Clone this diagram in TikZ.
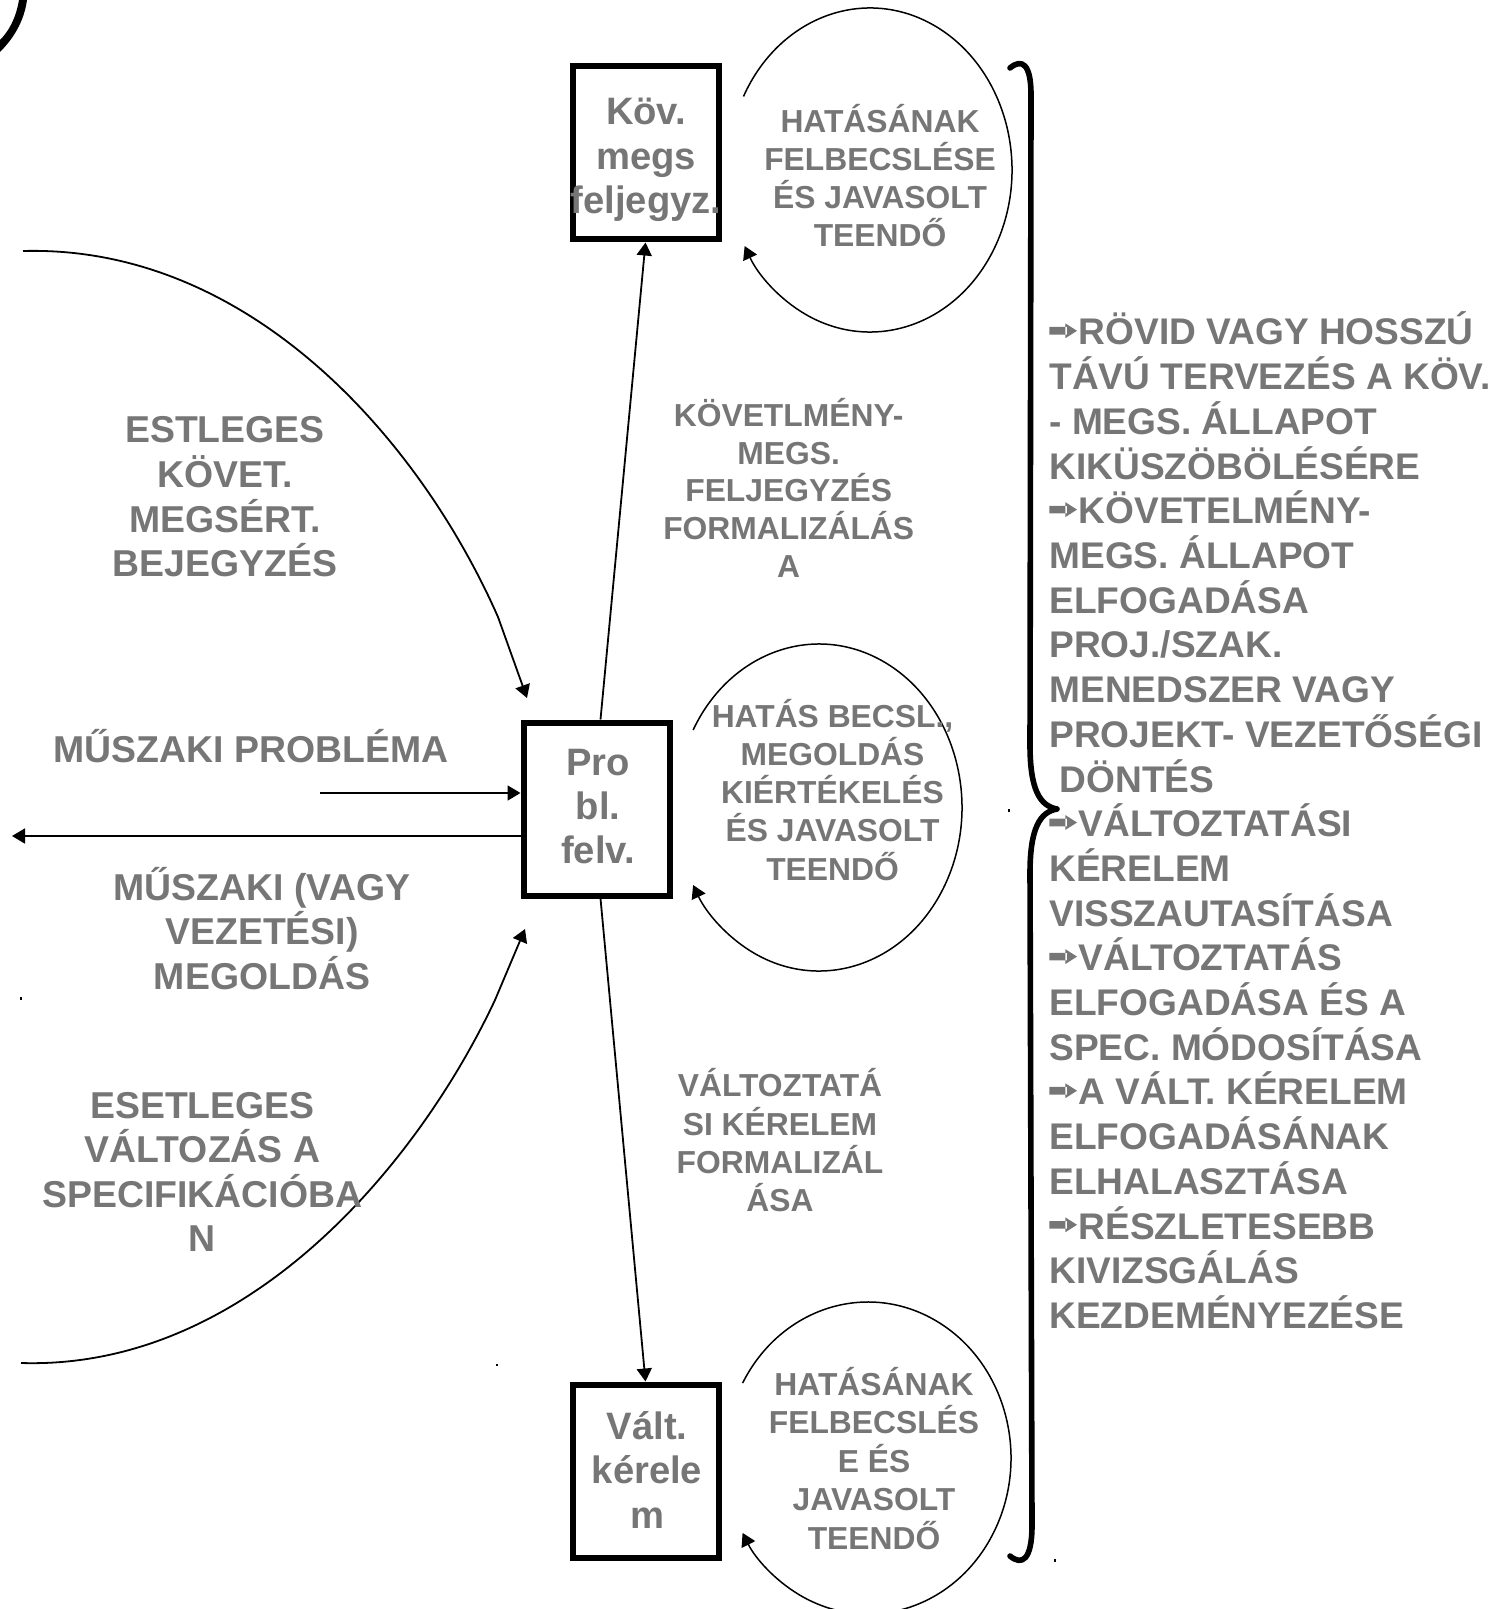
\documentclass[tikz,border=0pt]{standalone}
\usepackage{fontspec}
\setmainfont{Liberation Sans}
\usetikzlibrary{arrows.meta}
\definecolor{txt}{RGB}{118,118,118}
\tikzset{
  big/.style={font=\bfseries\fontsize{18.7}{22}\selectfont, text=txt, inner sep=0pt, anchor=base},
  boxtxt/.style={font=\bfseries\fontsize{19.1}{22}\selectfont, text=txt, inner sep=0pt, anchor=base},
  small/.style={font=\bfseries\fontsize{15.9}{19}\selectfont, text=txt, inner sep=0pt, anchor=base},
  lab/.style={font=\bfseries\fontsize{15.9}{19}\selectfont, text=txt, inner sep=0pt, anchor=base},
  rtext/.style={font=\bfseries\fontsize{18.55}{22}\selectfont, text=txt, inner sep=0pt, anchor=base west},
  boxnode/.style={draw, line width=3pt, minimum width=73pt, minimum height=86.5pt, inner sep=0pt},
  conn/.style={line width=0.9pt, -{Triangle[length=6.5pt,width=7.5pt]}},
  loopline/.style={line width=0.75pt, -{Triangle[length=6.5pt,width=7.5pt]}},
}
\newcommand\barr{\tikz[baseline=0pt]\fill[txt] (0pt,5.2pt) rectangle (8.8pt,9pt) (8pt,3.4pt) -- (13.8pt,7.1pt) -- (8pt,10.8pt) -- cycle;\hspace{0.8pt}}
% #1 style, #2 name prefix, #3 x, #4 first baseline (px, downwards), #5 pitch, #6 lines
\newcommand\mlines[6][big]{\foreach \lineT [count=\i] in {#6} {\node[#1] (#2\i) at (#3,{-(#4)-(#5)*(\i-1)}) {\lineT};}}
\begin{document}
\begin{tikzpicture}[x=0.5pt,y=0.5pt]
\useasboundingbox (0,0) rectangle (1497,-1609);

% boxes
\node[boxnode] (top) at (645.5,-153) {};
\node[boxnode] (mid) at (596.5,-809) {};
\node[boxnode] (bot) at (645.5,-1471) {};

% box texts
\mlines[boxtxt]{tb}{646}{125}{44.5}{Köv.,megs,feljegyz.}
\mlines[boxtxt]{mb}{598}{775}{44}{Pro,bl.,felv.}
\mlines[boxtxt]{bb}{647}{1439}{44.5}{Vált.,kérele,m}

% connectors between boxes
\draw[conn] ([xshift=2pt]mid.north) -- (top.south);
\draw[conn] ([xshift=2pt]mid.south) -- (bot.north);

% horizontal in/out
\coordinate (pin) at (320,-793);
\coordinate (pout) at (12,-836);
\draw[conn] (pin) -- (pin -| mid.west);
\draw[conn] (pout -| mid.west) -- (pout);

% big curved arrows on the left
\coordinate (c1s) at (23,-251);
\coordinate (c1k) at (498,-617);
\coordinate (c1e) at (527,-698);
\draw[conn] (c1s) .. controls (250,-245) and (420,-440) .. (c1k) -- (c1e);
\coordinate (c2s) at (21,-1363);
\coordinate (c2k) at (495,-1000);
\coordinate (c2e) at (525,-929);
\draw[conn] (c2s) .. controls (250,-1370) and (420,-1160) .. (c2k) -- (c2e);

% loops
\coordinate (eT) at (870,-170);
\coordinate (eM) at (819,-807.5);
\coordinate (eB) at (868,-1458);
\draw[loopline] (eT) ++(153:71pt and 81pt) arc[start angle=153, end angle=-152, x radius=71pt, y radius=81pt];
\draw[loopline] (eM) ++(151.7:71.5pt and 81.75pt) arc[start angle=151.7, end angle=-151.7, x radius=71.5pt, y radius=81.75pt];
\draw[loopline] (eB) ++(151.3:71.5pt and 78pt) arc[start angle=151.3, end angle=-151.3, x radius=71.5pt, y radius=78pt];

% loop texts
\mlines[small]{tc}{880}{133}{38}{HATÁSÁNAK,FELBECSLÉSE,ÉS JAVASOLT,TEENDŐ}
\mlines[small]{mc}{832.5}{727.3}{38.2}{{HATÁS BECSL.,},MEGOLDÁS,KIÉRTÉKELÉS,ÉS JAVASOLT,TEENDŐ}
\mlines[small]{bc}{874}{1395}{38.5}{HATÁSÁNAK,FELBECSLÉS,E ÉS,JAVASOLT,TEENDŐ}

% connector labels
\mlines[lab]{l1}{788.7}{426.7}{37.6}{KÖVETLMÉNY-,MEGS.,FELJEGYZÉS,FORMALIZÁLÁS,A}
\mlines[lab]{l2}{780}{1096.7}{38.3}{VÁLTOZTATÁ,SI KÉRELEM,FORMALIZÁL,ÁSA}

% left texts
\mlines{lt}{225}{443}{44.6}{ESTLEGES,KÖVET.,MEGSÉRT.,BEJEGYZÉS}
\node[big] (mp) at (251,-762) {MŰSZAKI PROBLÉMA};
\mlines{ms}{262}{900}{44.5}{MŰSZAKI (VAGY,VEZETÉSI),MEGOLDÁS}
\mlines{es}{202.5}{1118}{44.6}{ESETLEGES,VÁLTOZÁS A,SPECIFIKÁCIÓBA,N}

% right brace
\draw[line width=2.8pt, line cap=round, line join=round]
  (1010,-68) .. controls (1022,-58) and (1031,-64) .. (1031,-95)
  -- (1030,-745)
  .. controls (1030,-790) and (1040,-806) .. (1057,-809)
  .. controls (1040,-812) and (1030,-828) .. (1030,-873)
  -- (1032,-1525)
  .. controls (1032,-1560) and (1022,-1566) .. (1010,-1556);

% right text
\mlines[rtext]{rt}{1049}{345}{44.7}{\barr RÖVID VAGY HOSSZÚ,
TÁVÚ TERVEZÉS A KÖV.,
- MEGS. ÁLLAPOT,
KIKÜSZÖBÖLÉSÉRE,
\barr KÖVETELMÉNY-,
MEGS. ÁLLAPOT,
ELFOGADÁSA,
PROJ./SZAK.,
MENEDSZER VAGY,
PROJEKT- VEZETŐSÉGI,
{\ DÖNTÉS},
\barr VÁLTOZTATÁSI,
KÉRELEM,
VISSZAUTASÍTÁSA,
\barr VÁLTOZTATÁS,
ELFOGADÁSA ÉS A,
SPEC. MÓDOSÍTÁSA,
\barr A VÁLT. KÉRELEM,
ELFOGADÁSÁNAK,
ELHALASZTÁSA,
\barr RÉSZLETESEBB,
KIVIZSGÁLÁS,
KEZDEMÉNYEZÉSE}

% corner stroke top-left
\fill (27,0) .. controls (24,-22) and (13,-39) .. (0,-52) -- (0,-40) .. controls (9,-31) and (16,-18) .. (19,0) -- cycle;

% stray dots
\fill (19.5,-996.5) rectangle (21.5,-999.5);
\fill (495.5,-1363.5) rectangle (497.5,-1366);
\fill (1007.5,-809) rectangle (1009.5,-812);
\fill (1054,-1558.5) rectangle (1056,-1561.5);
\end{tikzpicture}
\end{document}
